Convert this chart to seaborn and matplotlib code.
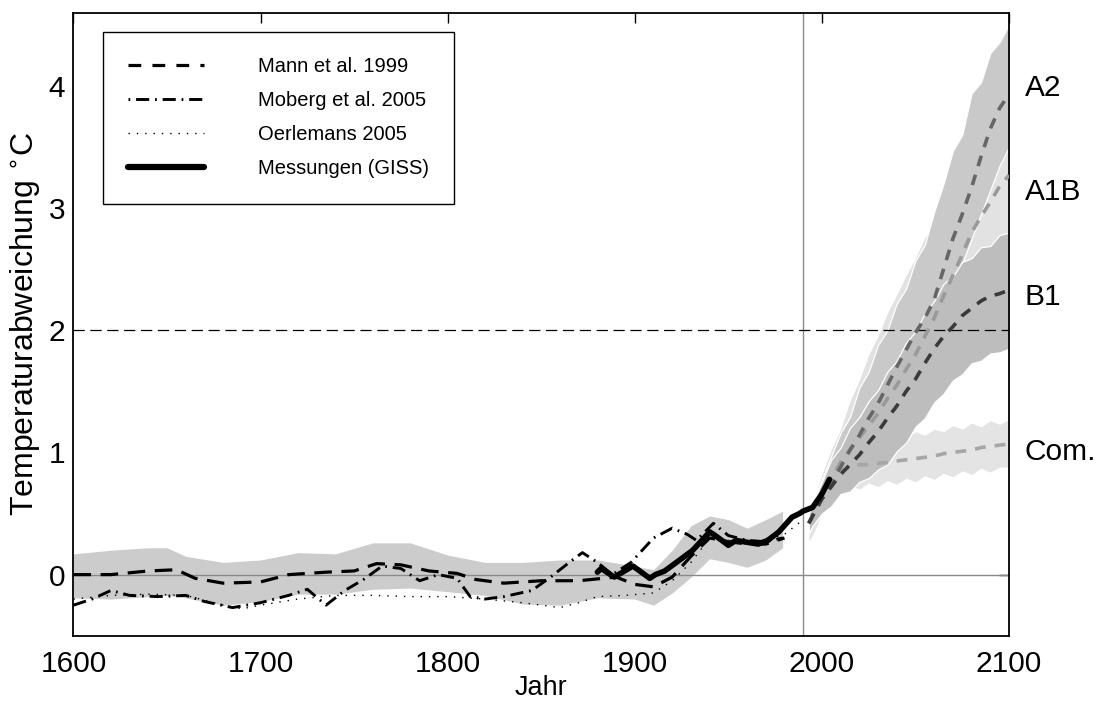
import numpy as np
import pandas as pd
import matplotlib
matplotlib.use("Agg")
import matplotlib.pyplot as plt
import matplotlib.transforms as mtransforms
from matplotlib.lines import Line2D
import seaborn as sns

# ---------------- data ----------------
band_years = [1600, 1620, 1640, 1650, 1660, 1680, 1700, 1720, 1740, 1760, 1780, 1800,
              1820, 1840, 1860, 1880, 1900, 1910, 1920, 1930, 1940, 1950, 1960, 1970, 1979]
band_lo = [-0.19, -0.20, -0.18, -0.17, -0.19, -0.25, -0.22, -0.16, -0.16, -0.12, -0.11, -0.14,
           -0.17, -0.24, -0.25, -0.19, -0.20, -0.25, -0.15, -0.02, 0.13, 0.10, 0.06, 0.12, 0.22]
band_hi = [0.17, 0.20, 0.22, 0.22, 0.15, 0.10, 0.12, 0.18, 0.17, 0.26, 0.26, 0.16,
           0.10, 0.10, 0.12, 0.12, 0.07, 0.04, 0.20, 0.40, 0.48, 0.45, 0.38, 0.45, 0.52]

mann_years = [1600, 1620, 1640, 1655, 1665, 1680, 1700, 1715, 1735, 1750, 1762, 1775, 1790,
              1805, 1815, 1830, 1850, 1870, 1890, 1900, 1910, 1920, 1930, 1940, 1950, 1960, 1970, 1980]
mann_vals = [0.00, 0.00, 0.03, 0.04, -0.03, -0.07, -0.06, 0.00, 0.02, 0.03, 0.09, 0.08, 0.03,
             0.01, -0.04, -0.07, -0.05, -0.05, -0.02, -0.08, -0.10, -0.02, 0.15, 0.30, 0.27, 0.25, 0.25, 0.30]

moberg_years = [1600, 1610, 1620, 1630, 1645, 1660, 1670, 1685, 1700, 1715, 1725, 1735, 1745,
                1755, 1765, 1775, 1785, 1795, 1805, 1812, 1820, 1830, 1845, 1855, 1865, 1872,
                1880, 1888, 1898, 1910, 1920, 1928, 1933, 1942, 1950, 1960, 1970, 1979]
moberg_vals = [-0.25, -0.20, -0.13, -0.17, -0.18, -0.17, -0.22, -0.27, -0.23, -0.17, -0.12, -0.25, -0.13,
               -0.04, 0.07, 0.05, -0.05, 0.00, -0.03, -0.18, -0.20, -0.18, -0.13, -0.02, 0.10, 0.18,
               0.10, 0.00, 0.10, 0.30, 0.38, 0.33, 0.28, 0.42, 0.32, 0.28, 0.27, 0.30]

oerl_years = [1600, 1620, 1640, 1660, 1680, 1690, 1700, 1720, 1740, 1760, 1780, 1800, 1820,
              1840, 1860, 1870, 1880, 1895, 1910, 1920, 1930, 1940, 1950, 1960, 1970, 1980, 1990]
oerl_vals = [-0.20, -0.17, -0.16, -0.17, -0.25, -0.28, -0.25, -0.20, -0.17, -0.17, -0.18, -0.18, -0.20,
             -0.23, -0.27, -0.23, -0.18, -0.17, -0.15, -0.05, 0.10, 0.30, 0.28, 0.25, 0.28, 0.33, 0.45]

giss_years = [1880, 1882, 1889, 1899, 1908, 1911, 1916, 1924, 1931, 1940, 1943, 1950, 1954,
              1958, 1966, 1971, 1977, 1984, 1988, 1990, 1995, 2000, 2004]
giss_vals = [0.02, 0.05, -0.02, 0.07, -0.03, 0.00, 0.03, 0.12, 0.20, 0.35, 0.32, 0.24, 0.28,
             0.27, 0.25, 0.28, 0.35, 0.47, 0.50, 0.52, 0.55, 0.66, 0.78]

proj_years = [1993, 1995, 2000, 2005, 2010, 2015, 2020, 2025, 2030, 2035, 2040, 2045,
              2050, 2055, 2060, 2065, 2070, 2075, 2080, 2085, 2090, 2095, 2100]
a2_mean = [0.42, 0.48, 0.62, 0.75, 0.88, 1.02, 1.14, 1.28, 1.40, 1.55, 1.70, 1.84,
           1.98, 2.10, 2.25, 2.50, 2.75, 2.95, 3.17, 3.42, 3.65, 3.82, 3.93]
a2_hi = [0.50, 0.60, 0.78, 0.97, 1.16, 1.29, 1.53, 1.66, 1.88, 2.00, 2.22, 2.34,
         2.57, 2.70, 2.97, 3.20, 3.47, 3.60, 3.94, 4.03, 4.27, 4.36, 4.50]
a2_lo = [0.34, 0.40, 0.50, 0.60, 0.70, 0.80, 0.90, 1.00, 1.12, 1.25, 1.38, 1.50,
         1.65, 1.80, 1.95, 2.15, 2.35, 2.55, 2.75, 2.95, 3.15, 3.35, 3.50]
a1b_mean = [0.42, 0.48, 0.64, 0.78, 0.92, 1.02, 1.12, 1.22, 1.32, 1.44, 1.55, 1.68,
            1.80, 1.95, 2.10, 2.28, 2.45, 2.62, 2.80, 2.93, 3.05, 3.18, 3.27]
a1b_hi = [0.50, 0.58, 0.82, 1.02, 1.19, 1.42, 1.59, 1.80, 1.95, 2.14, 2.29, 2.45,
          2.59, 2.76, 2.86, 3.00, 3.08, 3.24, 3.28, 3.42, 3.44, 3.52, 3.55]
a1b_lo = [0.34, 0.40, 0.50, 0.62, 0.72, 0.80, 0.88, 0.95, 1.02, 1.12, 1.22, 1.35,
          1.50, 1.65, 1.80, 1.95, 2.10, 2.25, 2.40, 2.52, 2.62, 2.72, 2.80]
b1_mean = [0.42, 0.48, 0.62, 0.72, 0.82, 0.90, 0.98, 1.08, 1.17, 1.28, 1.38, 1.50,
           1.60, 1.73, 1.85, 1.95, 2.03, 2.12, 2.18, 2.24, 2.28, 2.30, 2.33]
b1_hi = [0.50, 0.58, 0.76, 0.94, 1.04, 1.20, 1.29, 1.42, 1.51, 1.66, 1.75, 1.90,
         1.99, 2.14, 2.24, 2.38, 2.44, 2.56, 2.59, 2.68, 2.69, 2.78, 2.80]
b1_lo = [0.34, 0.40, 0.50, 0.56, 0.66, 0.68, 0.76, 0.79, 0.86, 0.90, 1.01, 1.08,
         1.21, 1.28, 1.41, 1.48, 1.59, 1.64, 1.73, 1.75, 1.81, 1.82, 1.85]
com_mean = [0.42, 0.48, 0.65, 0.77, 0.85, 0.88, 0.90, 0.90, 0.91, 0.92, 0.93, 0.94,
            0.95, 0.96, 0.97, 0.99, 1.00, 1.01, 1.02, 1.04, 1.05, 1.06, 1.07]
com_hi = [0.50, 0.56, 0.80, 0.90, 1.02, 1.04, 1.09, 1.06, 1.11, 1.08, 1.14, 1.11,
          1.17, 1.14, 1.19, 1.17, 1.22, 1.19, 1.24, 1.21, 1.26, 1.23, 1.27]
com_lo = [0.28, 0.32, 0.50, 0.64, 0.68, 0.73, 0.70, 0.75, 0.72, 0.77, 0.74, 0.79,
          0.76, 0.81, 0.78, 0.83, 0.80, 0.85, 0.82, 0.87, 0.84, 0.88, 0.88]

scenario_labels = ["A2", "A1B", "B1", "Com."]
scenario_label_y = [3.98, 3.13, 2.27, 1.00]
legend_labels = ["Mann et al. 1999", "Moberg et al. 2005", "Oerlemans 2005", "Messungen (GISS)"]
x_ticks = [1600, 1700, 1800, 1900, 2000, 2100]
y_ticks = [0, 1, 2, 3, 4]

# ---------------- style ----------------
sns.set_theme(style="white")
plt.rcParams["font.family"] = ["Liberation Sans", "DejaVu Sans"]
for key in ["text.color", "axes.labelcolor", "xtick.color", "ytick.color", "axes.edgecolor"]:
    plt.rcParams[key] = "black"

fig = plt.figure(figsize=(11.03, 7.05), dpi=100)
ax = fig.add_axes([0.0666, 0.0983, 0.8482, 0.8837])

# historical uncertainty band
ax.fill_between(band_years, band_lo, band_hi, color="#cccccc", lw=0, zorder=1)

# projection bands
ax.fill_between(proj_years, com_lo, com_hi, color="#e4e4e4", lw=0, zorder=1)
ax.fill_between(proj_years, a1b_lo, a1b_hi, color="#e2e2e2", lw=0, zorder=1.1)
ax.fill_between(proj_years, a2_lo, a2_hi, facecolor="#c9c9c9", edgecolor="white", lw=0.9, zorder=1.2)
ax.fill_between(proj_years, b1_lo, b1_hi, facecolor="#bdbdbd", edgecolor="white", lw=0.9, zorder=1.3)

# reference lines
ax.axhline(0, color="#8a8a8a", lw=1.0, zorder=1.5)
ax.axvline(1990, color="#8a8a8a", lw=1.0, zorder=1.5)
ax.axhline(2, color="black", lw=0.9, linestyle=(0, (9, 4.5)), zorder=1.6)

# reconstructions
sns.lineplot(x=mann_years, y=mann_vals, ax=ax, color="black", lw=2.3,
             linestyle=(0, (5.5, 3)), zorder=3)
sns.lineplot(x=moberg_years, y=moberg_vals, ax=ax, color="black", lw=2.1,
             linestyle=(0, (4.5, 2, 0.6, 2)), zorder=3)
sns.lineplot(x=oerl_years, y=oerl_vals, ax=ax, color="black", lw=1.0,
             linestyle=(0, (1, 5)), zorder=3)
sns.lineplot(x=giss_years, y=giss_vals, ax=ax, color="black", lw=4.0, zorder=4)

# scenario means
sns.lineplot(x=proj_years, y=com_mean, ax=ax, color="#a6a6a6", lw=2.6, linestyle=(0, (3, 2.5)), zorder=3)
sns.lineplot(x=proj_years, y=a1b_mean, ax=ax, color="#9a9a9a", lw=2.6, linestyle=(0, (3, 2.5)), zorder=3)
sns.lineplot(x=proj_years, y=a2_mean, ax=ax, color="#666666", lw=2.6, linestyle=(0, (3, 2.5)), zorder=3)
sns.lineplot(x=proj_years, y=b1_mean, ax=ax, color="#3a3a3a", lw=2.6, linestyle=(0, (3, 2.5)), zorder=3)

# axes
ax.set_xlim(1600, 2100)
ax.set_ylim(-0.5, 4.6)
ax.set_xticks(x_ticks)
ax.set_yticks(y_ticks)
ax.set_xticklabels([str(v) for v in x_ticks])
ax.set_yticklabels([str(v) for v in y_ticks])
ax.tick_params(direction="in", length=7, width=1.0, top=True, right=True,
               labelsize=21.5, colors="black")
ax.tick_params(axis="x", pad=10)
ax.tick_params(axis="y", pad=6)
for s in ax.spines.values():
    s.set_linewidth(1.3)
    s.set_color("black")
    s.set_visible(True)
ax.set_xlabel("Jahr", fontsize=19.5, labelpad=-2, color="black")
ax.set_ylabel("Temperaturabweichung $^{\\circ}$C", fontsize=23, labelpad=4, color="black")

# scenario labels on the right
trans = mtransforms.blended_transform_factory(ax.transAxes, ax.transData)
for lab, yv in zip(scenario_labels, scenario_label_y):
    ax.text(1.017, yv, lab, transform=trans, fontsize=21.5, va="center", ha="left",
            color="black", clip_on=False)

# legend
handles = [
    Line2D([], [], color="black", lw=2.3, linestyle=(0, (4, 3.5))),
    Line2D([], [], color="black", lw=2.1, linestyle=(0, (0.6, 2, 4.5, 2))),
    Line2D([], [], color="black", lw=1.0, linestyle=(0, (1, 5))),
    Line2D([], [], color="black", lw=4.5),
]
leg = ax.legend(handles, legend_labels, loc="upper left",
                bbox_to_anchor=(103 / 1103, 1 - 32 / 705), bbox_transform=fig.transFigure,
                fontsize=14.5, frameon=True, fancybox=False, framealpha=1, edgecolor="black",
                handlelength=3.75, handletextpad=2.7, labelspacing=0.75, borderpad=1.25,
                borderaxespad=0)
leg.get_frame().set_linewidth(1.0)
for t in leg.get_texts():
    t.set_color("black")
leg.set_zorder(10)

fig.savefig("out.png", dpi=100)
